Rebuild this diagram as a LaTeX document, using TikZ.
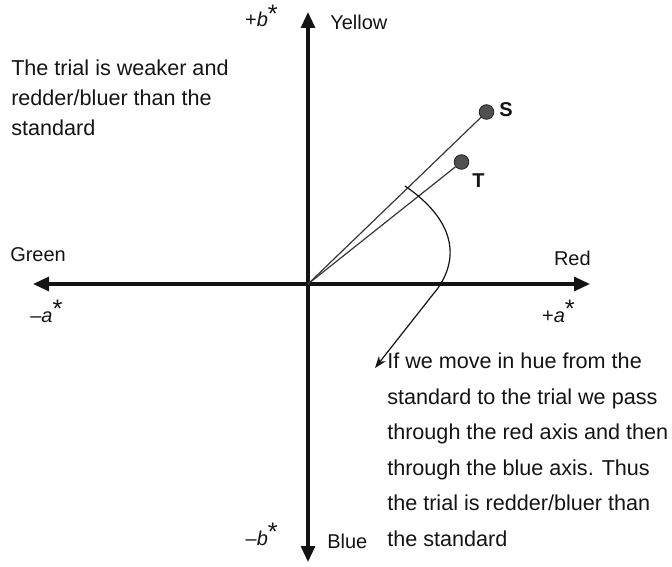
\documentclass[tikz,border=0pt]{standalone}
\usepackage{fontspec}
\setmainfont{Liberation Sans}
\usetikzlibrary{arrows.meta,positioning}
\definecolor{ink}{RGB}{20,20,20}
\definecolor{rayink}{RGB}{55,55,55}
\definecolor{dotgrey}{RGB}{80,80,80}
\tikzset{
  every picture/.style={color=ink, x=0.75pt, y=-0.75pt},
  axis/.style={line width=2.3pt, -{Triangle[length=12pt,width=10.5pt]}},
  ray/.style={line width=0.9pt, color=rayink},
  hue/.style={line width=0.9pt, -{Stealth[length=9pt,width=6.5pt]}},
  dot/.style={circle, fill=dotgrey, draw=ink, line width=0.5pt, inner sep=0pt, minimum width=9.5pt, minimum height=11pt},
  lbl/.style={font=\fontsize{15}{18}\selectfont, inner sep=0pt},
  pt/.style={font=\fontsize{15}{18}\selectfont\bfseries, inner sep=0pt, anchor=base west},
  note/.style={font=\fontsize{16.2}{#1}\selectfont, inner sep=0pt, align=left, anchor=north west},
}
\newcommand{\axlbl}[2]{#1\textit{#2}\raisebox{3.5pt}{\fontsize{19}{19}\selectfont *}}

\begin{document}
\begin{tikzpicture}
  \useasboundingbox (0,0) rectangle (672,567);
  \coordinate (O) at (308,284);
  \coordinate (red) at (590,284);
  \coordinate (green) at (33,284);
  \coordinate (yellow) at (308,12);
  \coordinate (blue) at (308,562);
  \draw[axis] (O) -- (red);
  \draw[axis] (O) -- (green);
  \draw[axis] (O) -- (yellow);
  \draw[axis] (O) -- (blue);
  % axis names
  \node[lbl, anchor=base west] (ylw) at (330,30) {Yellow};
  \node[lbl, anchor=base west] (blu) at (327,548) {Blue};
  \node[lbl, anchor=base west] (grn) at (10,261) {Green};
  \node[lbl, anchor=base east] (rd) at (591,265) {Red};
  \node[lbl, anchor=base east] (pb) at (278,27) {\axlbl{+}{b}};
  \node[lbl, anchor=base east] (mb) at (278,545) {\axlbl{–}{b}};
  \node[lbl, anchor=base west] (ma) at (30,322) {\axlbl{–}{a}};
  \node[lbl, anchor=base east] (pa) at (575,322) {\axlbl{+}{a}};
  % standard and trial
  \node[dot] (S) at (486.5,112) {};
  \node[dot] (T) at (461.5,162) {};
  \node[pt] (Slbl) at (499,117) {S};
  \node[pt] (Tlbl) at (472,187) {T};
  \draw[ray] (O) -- (S);
  \draw[ray] (O) -- (T);
  % hue path
  \coordinate (huestart) at (405,186);
  \coordinate (hueend) at (375,368);
  \draw[hue] (huestart) .. controls (446,214) and (464,250) .. (438,288) -- (hueend);
  \node[note=26.6] (hnote) at (387,353) {If we move in hue from the\\standard to the trial we pass\\through the red axis and then\\through the blue axis. Thus\\the trial is redder/bluer than\\the standard};
  \node[note=22.5] (wnote) at (11,60) {The trial is weaker and\\redder/bluer than the\\standard};
\end{tikzpicture}
\end{document}
